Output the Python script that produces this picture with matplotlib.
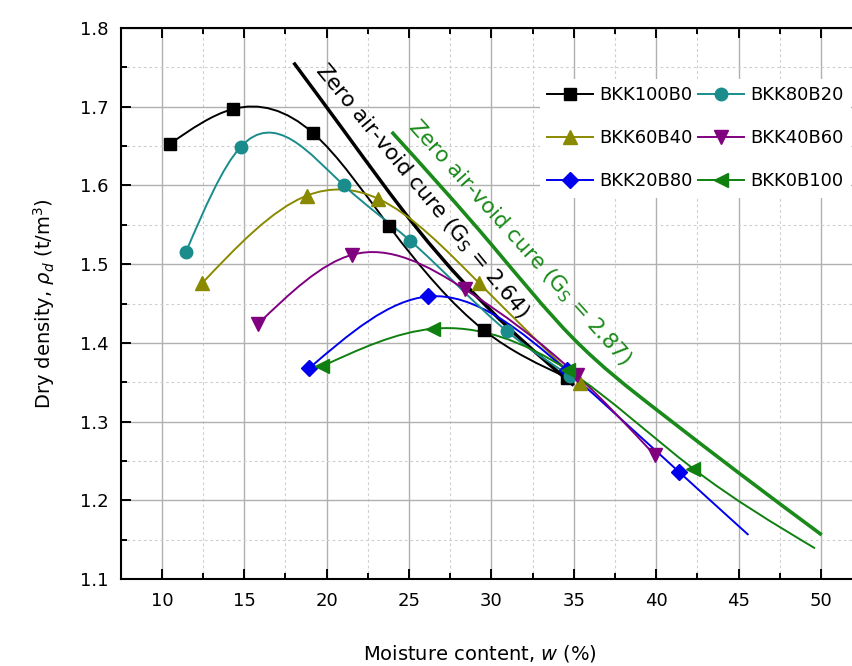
import numpy as np
import matplotlib
matplotlib.use('Agg')
import matplotlib.pyplot as plt
from matplotlib.path import Path
from matplotlib.patches import PathPatch
from matplotlib.lines import Line2D
from matplotlib.ticker import MultipleLocator

# ---- data ----
w_100b0 = [10.5, 14.3, 19.15, 23.8, 29.55, 34.6]
rho_100b0 = [1.653, 1.697, 1.667, 1.548, 1.416, 1.356]

w_80b20 = [11.45, 14.78, 21.05, 25.06, 30.93, 34.8]
rho_80b20 = [1.515, 1.649, 1.600, 1.530, 1.415, 1.358]

w_60b40 = [12.45, 18.79, 23.14, 29.25, 35.38]
rho_60b40 = [1.476, 1.587, 1.583, 1.476, 1.349]

w_40b60 = [15.83, 21.56, 28.4, 35.18, 39.93]
rho_40b60 = [1.424, 1.512, 1.468, 1.359, 1.257]

# last value of the next two is the end of the fitted line (no marker)
w_20b80 = [18.95, 26.17, 34.57, 41.39, 45.6]
rho_20b80 = [1.368, 1.459, 1.365, 1.236, 1.156]

w_0b100 = [19.7, 26.47, 34.67, 42.26, 49.64]
rho_0b100 = [1.370, 1.418, 1.365, 1.240, 1.139]

# zero air-void curves
w_zav264 = [18.0, 21.1, 25.5, 31.1, 35.0]
rho_zav264 = [1.756, 1.668, 1.545, 1.418, 1.346]
w_zav287 = [23.95, 30.0, 35.0, 40.03, 45.0, 50.05]
rho_zav287 = [1.668, 1.525, 1.405, 1.315, 1.235, 1.156]

series = [
    ('BKK100B0', w_100b0, rho_100b0, 'black', 's', None),
    ('BKK60B40', w_60b40, rho_60b40, '#8a8a00', '^', None),
    ('BKK20B80', w_20b80, rho_20b80, '#0000ee', 'D', [0, 1, 2, 3]),
    ('BKK80B20', w_80b20, rho_80b20, '#1a8c8c', 'o', None),
    ('BKK40B60', w_40b60, rho_40b60, '#800080', 'v', None),
    ('BKK0B100', w_0b100, rho_0b100, '#0f800f', '<', [0, 1, 2, 3]),
]
marker_size = {'s': 8, 'o': 9, '^': 9.5, 'v': 9.5, 'D': 8, '<': 9.5}


def spline_path(x, y):
    """natural cubic spline through the points, drawn as bezier segments"""
    x = np.asarray(x, float)
    y = np.asarray(y, float)
    n = len(x)
    h = np.diff(x)
    d = np.diff(y) / h
    A = np.zeros((n, n))
    b = np.zeros(n)
    A[0, 0] = A[-1, -1] = 1
    for i in range(1, n - 1):
        A[i, i - 1] = h[i - 1]
        A[i, i] = 2 * (h[i - 1] + h[i])
        A[i, i + 1] = h[i]
        b[i] = 6 * (d[i] - d[i - 1])
    M = np.linalg.solve(A, b)
    m = np.empty(n)
    m[:-1] = d - h * (2 * M[:-1] + M[1:]) / 6
    m[-1] = d[-1] + h[-1] * (M[-2] + 2 * M[-1]) / 6
    verts = [(x[0], y[0])]
    codes = [Path.MOVETO]
    for i in range(n - 1):
        verts += [(x[i] + h[i] / 3, y[i] + m[i] * h[i] / 3),
                  (x[i + 1] - h[i] / 3, y[i + 1] - m[i + 1] * h[i] / 3),
                  (x[i + 1], y[i + 1])]
        codes += [Path.CURVE4] * 3
    return Path(verts, codes)


plt.rcParams['font.family'] = ['DejaVu Sans']
plt.rcParams['mathtext.fontset'] = 'dejavusans'

fig = plt.figure(figsize=(8.53, 6.66), dpi=100)
ax = fig.add_axes([0.1415, 0.1306, 0.8692, 0.8273])

ax.set_xlim(7.5, 52.5)
ax.set_ylim(1.1, 1.8)
ax.xaxis.set_major_locator(MultipleLocator(5))
ax.xaxis.set_minor_locator(MultipleLocator(2.5))
ax.yaxis.set_major_locator(MultipleLocator(0.1))
ax.yaxis.set_minor_locator(MultipleLocator(0.05))
ax.yaxis.set_major_formatter(matplotlib.ticker.FormatStrFormatter('%.1f'))

ax.grid(which='major', color='#b0b0b0', lw=1.0, ls='-')
ax.grid(which='minor', color='#cfcfcf', lw=0.8, ls=(0, (2.5, 2.5)))
ax.set_axisbelow(True)

ax.tick_params(which='both', direction='in', top=True, right=False,
               width=1.4, labelsize=13)
ax.tick_params(which='major', length=7, pad=9)
ax.tick_params(which='minor', length=4)
for sp in ax.spines.values():
    sp.set_linewidth(1.5)

# zero air-void curves
ax.add_patch(PathPatch(spline_path(w_zav264, rho_zav264), fc='none',
                       ec='black', lw=2.5, zorder=3))
ax.add_patch(PathPatch(spline_path(w_zav287, rho_zav287), fc='none',
                       ec='#1a8a1a', lw=2.6, zorder=3))

handles = []
for name, wx, ry, col, mk, mev in series:
    ax.add_patch(PathPatch(spline_path(wx, ry), fc='none', ec=col,
                           lw=1.4, zorder=4))
    idx = mev if mev is not None else list(range(len(wx)))
    ax.plot(np.asarray(wx)[idx], np.asarray(ry)[idx], ls='none', marker=mk,
            ms=marker_size[mk], color=col, mec=col, zorder=5)
    handles.append(Line2D([], [], color=col, lw=1.4, marker=mk,
                          ms=marker_size[mk], label=name))

ax.text(25.79, 1.593, r'Zero air-void cure ($\mathregular{G_S}$ = 2.64)',
        rotation=-50.5, rotation_mode='anchor', ha='center', va='center',
        fontsize=15.5, color='black', zorder=6)
ax.text(31.68, 1.527, r'Zero air-void cure ($\mathregular{G_S}$ = 2.87)',
        rotation=-48, rotation_mode='anchor', ha='center', va='center',
        fontsize=15.5, color='#1a8a1a', zorder=6)

leg = ax.legend(handles=handles, ncol=2, loc='upper left',
                bbox_to_anchor=(0.622, 0.8955), bbox_transform=fig.transFigure,
                fontsize=13, frameon=True, fancybox=False, framealpha=1,
                edgecolor='none', facecolor='white', handlelength=2.55,
                handletextpad=0.35, columnspacing=0.3, labelspacing=1.4,
                borderpad=0.4)
leg.set_zorder(10)

ax.set_xlabel(r'Moisture content, $w$ (%)', fontsize=14, labelpad=24)
ax.xaxis.label.set_x(0.485)
ax.set_ylabel(r'Dry density, $\rho_d$ (t/m$^3$)', fontsize=14, labelpad=16)

fig.savefig('out.png', dpi=100)
